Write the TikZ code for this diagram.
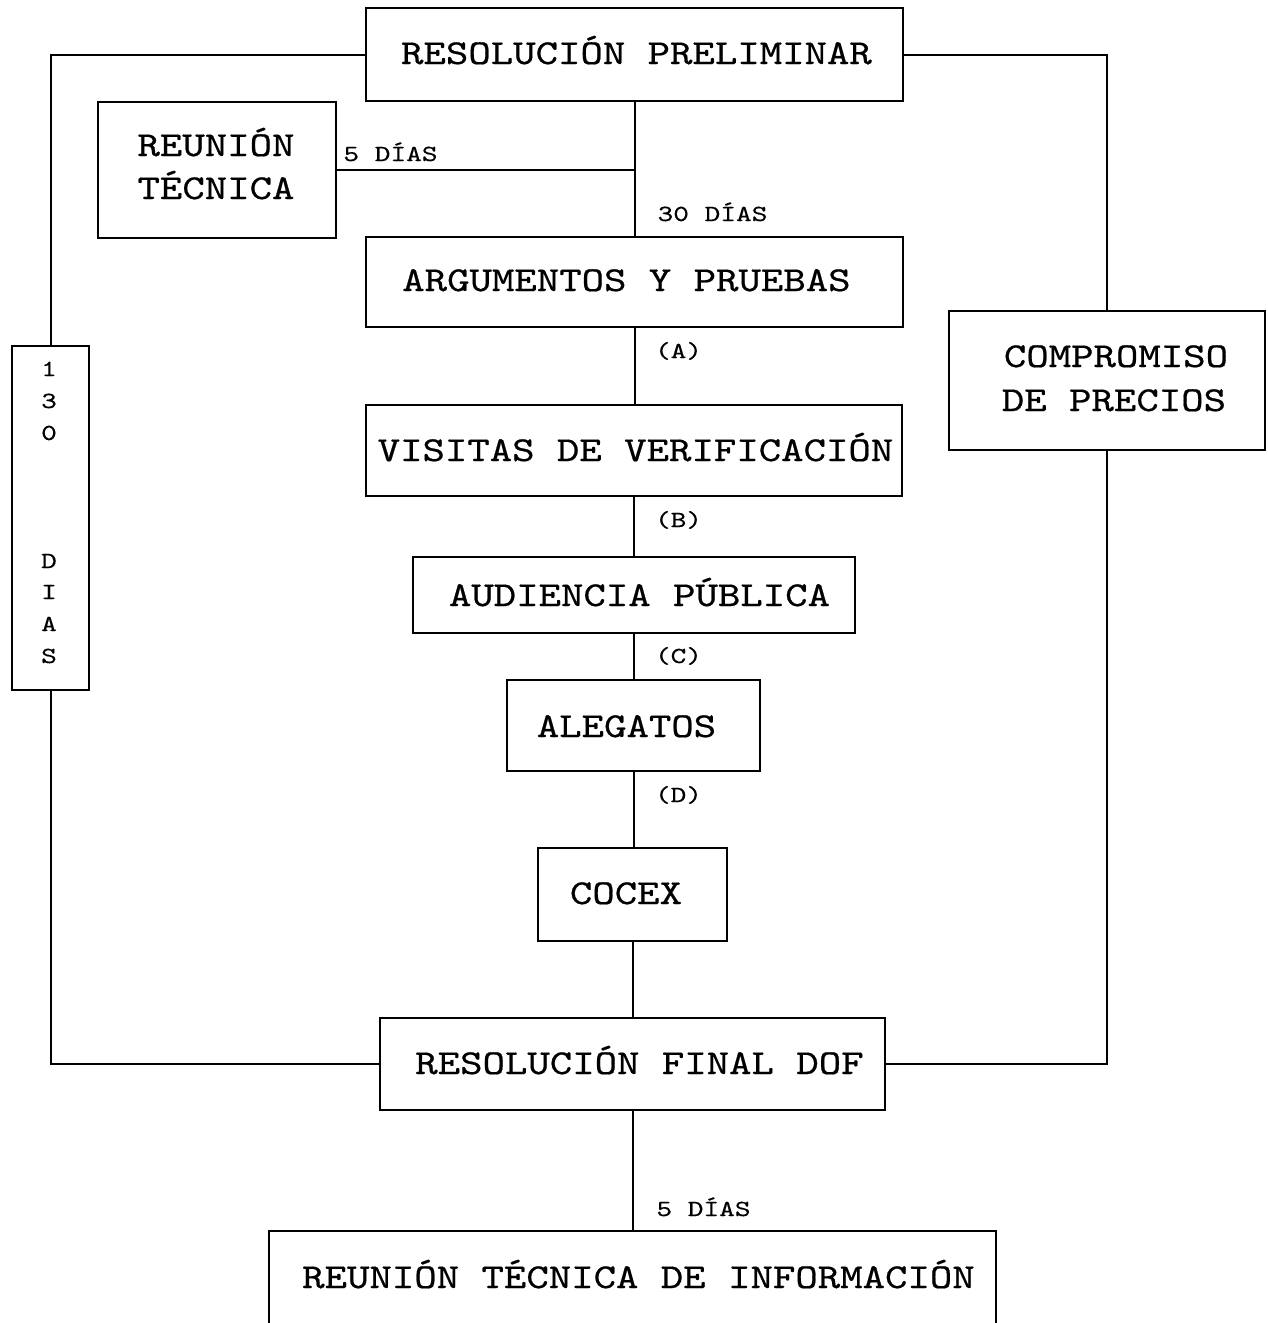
\documentclass[tikz,border=0pt]{standalone}
\usepackage{fontspec}
\newfontfamily\bigtt{lmmono10-regular}[Extension=.otf, FakeStretch=1.22, FakeBold=0.6]
\newfontfamily\smalltt{lmmono10-regular}[Extension=.otf, FakeStretch=1.3, FakeBold=0.4]
\begin{document}
\begin{tikzpicture}[x=1pt, y=-1pt,
  box/.style={draw, line width=2pt, inner sep=0pt, outer sep=0pt},
  link/.style={line width=2pt},
  big/.style={font=\bigtt\fontsize{35}{42}\selectfont, anchor=base, inner sep=0pt},
  small/.style={font=\smalltt\fontsize{23}{28}\selectfont, anchor=base, inner sep=0pt}]
\clip (0,0) rectangle (1268,1323);
\fill[white] (0,0) rectangle (1268,1323);

% boxes
\node[box, minimum width=537, minimum height=93]  (rp)   at (634.5,54.5) {};
\node[box, minimum width=238, minimum height=136] (rt)   at (217,170) {};
\node[box, minimum width=537, minimum height=90]  (ap)   at (634.5,282) {};
\node[box, minimum width=536, minimum height=91]  (vv)   at (634,450.5) {};
\node[box, minimum width=442, minimum height=76]  (au)   at (634,595) {};
\node[box, minimum width=253, minimum height=91]  (al)   at (633.5,725.5) {};
\node[box, minimum width=189, minimum height=93]  (cx)   at (632.5,894.5) {};
\node[box, minimum width=505, minimum height=92]  (rf)   at (632.5,1064) {};
\node[box, minimum width=727, minimum height=129] (rti)  at (632.5,1295.5) {};
\node[box, minimum width=77,  minimum height=344] (dias) at (50.5,518) {};
\node[box, minimum width=316, minimum height=139] (cp)   at (1107,380.5) {};

% connectors
\draw[link] (rp.south) -- (rp.south |- ap.north);
\draw[link] (rt.east) -- (rt.east -| rp.south);
\draw[link] (ap.south) -- (ap.south |- vv.north);
\draw[link] (vv.south) -- (vv.south |- au.north);
\draw[link] (au.south) -- (au.south |- al.north);
\draw[link] (al.south) -- (al.south |- cx.north);
\draw[link] (cx.south) -- (cx.south |- rf.north);
\draw[link] (rf.south) -- (rf.south |- rti.north);
\draw[link] (rp.west) -| (dias.north);
\draw[link] (dias.south) |- (rf.west);
\draw[link] (rp.east) -| (cp.north);
\draw[link] (cp.south) |- (rf.east);

% box texts
\node[big] (t-rp)  at (636.5,64)   {RESOLUCIÓN PRELIMINAR};
\node[big] (t-rt1) at (216,156)    {REUNIÓN};
\node[big] (t-rt2) at (216,199)    {TÉCNICA};
\node[big] (t-ap)  at (626.5,291)  {ARGUMENTOS Y PRUEBAS};
\node[big] (t-vv)  at (635.5,461)  {VISITAS DE VERIFICACIÓN};
\node[big] (t-au)  at (639.5,606)  {AUDIENCIA PÚBLICA};
\node[big] (t-al)  at (626.5,737)  {ALEGATOS};
\node[big] (t-cx)  at (626,904)    {COCEX};
\node[big] (t-rf)  at (639.5,1074) {RESOLUCIÓN FINAL DOF};
\node[big] (t-rti) at (638.5,1288) {REUNIÓN TÉCNICA DE INFORMACIÓN};
\node[big] (t-cp1) at (1116,367)   {COMPROMISO};
\node[big] (t-cp2) at (1114,411)   {DE PRECIOS};

% connector labels
\node[small] (l-5a)  at (390.5,161)  {5 DÍAS};
\node[small] (l-30)  at (712.5,221)  {30 DÍAS};
\node[small] (l-a)   at (678.5,358)  {(A)};
\node[small] (l-b)   at (678.5,527)  {(B)};
\node[small] (l-c)   at (678.5,663)  {(C)};
\node[small] (l-d)   at (678.5,802)  {(D)};
\node[small] (l-5b)  at (703.5,1216) {5 DÍAS};

% vertical text of the side box
\node[small] (d1) at (49,376) {1};
\node[small] (d2) at (49,408) {3};
\node[small] (d3) at (49,440) {0};
\node[small] (d4) at (49,568) {D};
\node[small] (d5) at (49,599) {I};
\node[small] (d6) at (49,631) {A};
\node[small] (d7) at (49,663) {S};
\end{tikzpicture}
\end{document}
